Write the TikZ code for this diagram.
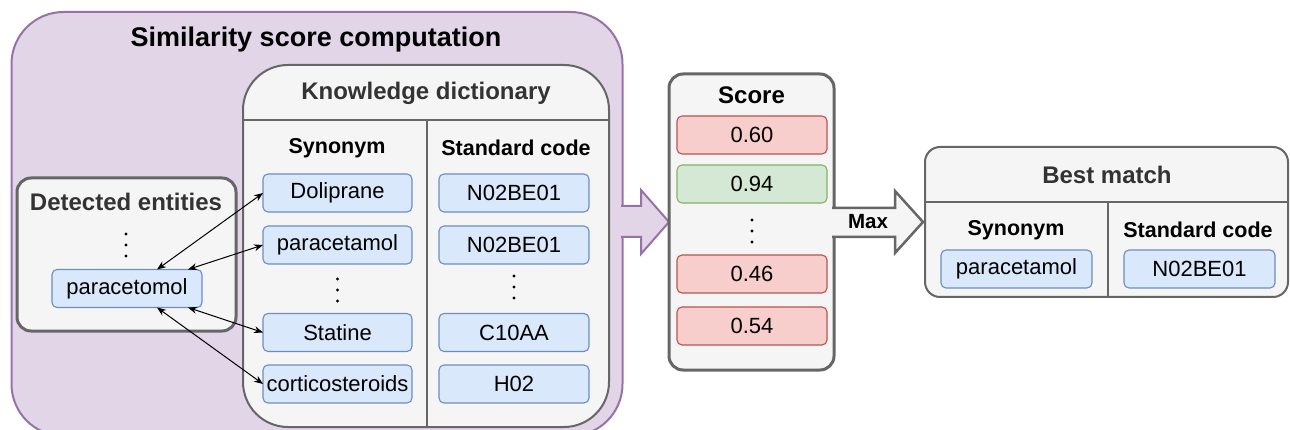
\documentclass[tikz,border=0pt]{standalone}
\usepackage{fontspec}
\setmainfont{Liberation Sans}
\usetikzlibrary{arrows.meta}
\definecolor{purfill}{HTML}{E1D5E7}
\definecolor{purdraw}{HTML}{9673A6}
\definecolor{grayfill}{HTML}{F5F5F5}
\definecolor{graydraw}{HTML}{666666}
\definecolor{gtext}{HTML}{333333}
\definecolor{bluefill}{HTML}{DAE8FC}
\definecolor{bluedraw}{HTML}{6C8EBF}
\definecolor{redfill}{HTML}{F8CECC}
\definecolor{reddraw}{HTML}{B85450}
\definecolor{greenfill}{HTML}{D5E8D4}
\definecolor{greendraw}{HTML}{82B366}
\tikzset{
  cell/.style={draw, rounded corners=5pt, minimum height=38pt, inner sep=0pt, outer sep=0pt,
    line width=1.1pt, font=\fontsize{22}{24}\selectfont},
  bluebox/.style={cell, fill=bluefill, draw=bluedraw, minimum width=150pt},
  redbox/.style={cell, fill=redfill, draw=reddraw, minimum width=150pt},
  greenbox/.style={cell, fill=greenfill, draw=greendraw, minimum width=150pt},
  container/.style={draw=graydraw, fill=grayfill, inner sep=0pt, outer sep=0pt},
  purplebox/.style={draw=purdraw, fill=purfill, line width=2pt, inner sep=0pt, outer sep=0pt},
  hdr/.style={font=\bfseries\fontsize{21.5}{24}\selectfont},
  ttl/.style={font=\bfseries\fontsize{24}{28}\selectfont, text=gtext},
  vdotsthree/.pic={\fill (0,-11) circle (1.6pt) (0,0) circle (1.6pt) (0,11) circle (1.6pt);},
  link/.style={{Stealth[length=9pt,width=7pt]}-{Stealth[length=9pt,width=7pt]}, line width=1pt},
  sepline/.style={draw=graydraw, line width=2pt}
}
\begin{document}
\begin{tikzpicture}[x=1pt,y=-1pt]
\useasboundingbox (0,0) rectangle (1290,430);
\clip (0,0) rectangle (1290,430);

% outer purple container
\node[purplebox, minimum width=611pt, minimum height=424pt, rounded corners=52pt] (ssc) at (317,224) {};
\node[font=\bfseries\fontsize{27}{30}\selectfont] (ssct) at (316,40) {Similarity score computation};

% big purple arrow
\coordinate (pa1) at (621,222);
\filldraw[fill=purfill, draw=purdraw, line width=2pt, line join=miter]
  (621,206) -- (641,206) -- (641,190) -- (669,222) -- (641,254) -- (641,237) -- (621,237);

% knowledge dictionary
\node[container, line width=2pt, rounded corners=45pt, minimum width=366pt, minimum height=362pt] (kd) at (426,246) {};
\draw[sepline] (kd.west |- 0,120) -- (kd.east |- 0,120);
\draw[sepline] (427,120) -- (427,0 |- kd.south);
\node[ttl] (kdt) at (426,93) {Knowledge dictionary};
\node[hdr] (synh) at (337,148) {Synonym};
\node[hdr] (stdh) at (516,148) {Standard code};

\node[bluebox, minimum width=149pt] (s1) at (337.5,193) {Doliprane};
\node[bluebox, minimum width=149pt] (s2) at (337.5,245) {paracetamol};
\coordinate (sdots) at (337.5,290);
\pic at (sdots) {vdotsthree};
\node[bluebox, minimum width=149pt] (s3) at (337.5,332.5) {Statine};
\node[bluebox, minimum width=149pt] (s4) at (337.5,384) {corticosteroids};

\node[bluebox] (c1) at (514,193) {N02BE01};
\node[bluebox] (c2) at (514,245) {N02BE01};
\coordinate (cdots) at (514,287);
\pic at (cdots) {vdotsthree};
\node[bluebox] (c3) at (514,332.5) {C10AA};
\node[bluebox] (c4) at (514,384) {H02};

% detected entities
\node[container, line width=3pt, rounded corners=14pt, minimum width=219pt, minimum height=153pt] (det) at (126.5,254.5) {};
\node[ttl] (dett) at (126,202) {Detected entities};
\coordinate (ddots) at (126,245);
\pic at (ddots) {vdotsthree};
\node[bluebox] (pe) at (127,288.5) {paracetomol};

\draw[link] ([xshift=30pt]pe.north) -- (s1.west);
\draw[link] ([xshift=61pt]pe.north) -- (s2.west);
\draw[link] ([xshift=61pt]pe.south) -- (s3.west);
\draw[link] ([xshift=30pt]pe.south) -- (s4.west);

% score
\node[container, line width=3pt, rounded corners=14pt, minimum width=165pt, minimum height=296pt] (sc) at (751.5,222) {};
\node[font=\bfseries\fontsize{24}{28}\selectfont] (sct) at (751.5,95) {Score};
\node[redbox] (v1) at (752,135) {0.60};
\node[greenbox] (v2) at (752,184) {0.94};
\coordinate (vdots) at (752,231);
\pic at (vdots) {vdotsthree};
\node[redbox] (v3) at (752,274) {0.46};
\node[redbox] (v4) at (752,326) {0.54};

% max arrow
\filldraw[fill=grayfill, draw=graydraw, line width=2.5pt, line join=miter]
  (832,208) -- (895,208) -- (895,191) -- (923,222) -- (895,253) -- (895,237) -- (832,237);
\node[font=\bfseries\fontsize{20.5}{24}\selectfont] (maxl) at (868,222) {Max};

% best match
\node[container, line width=2pt, rounded corners=15pt, minimum width=363pt, minimum height=150pt] (bm) at (1106.5,222) {};
\draw[sepline] (bm.west |- 0,202) -- (bm.east |- 0,202);
\draw[sepline] (1108,202) -- (1108,0 |- bm.south);
\node[ttl] (bmt) at (1107,175) {Best match};
\node[hdr] (bsh) at (1016,230) {Synonym};
\node[hdr] (bch) at (1198,230) {Standard code};
\node[bluebox, minimum width=151pt] (bs) at (1016.5,269) {paracetamol};
\node[bluebox, minimum width=151pt] (bc) at (1199.5,269) {N02BE01};
\end{tikzpicture}
\end{document}
